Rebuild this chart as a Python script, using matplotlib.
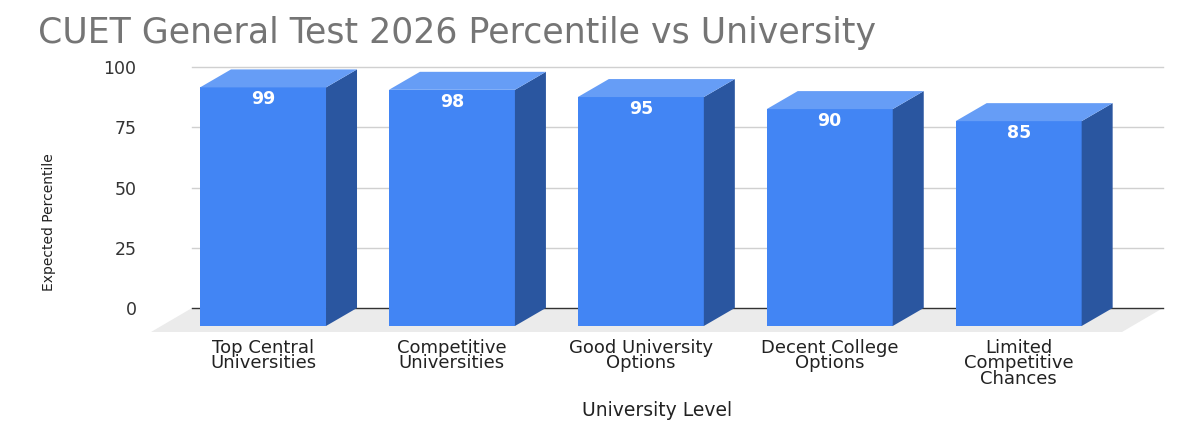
import matplotlib
matplotlib.use("Agg")
import matplotlib.pyplot as plt
from matplotlib.patches import Polygon
from matplotlib import font_manager
import numpy as np

categories = [
    "Top Central\nUniversities",
    "Competitive\nUniversities",
    "Good University\nOptions",
    "Decent College\nOptions",
    "Limited\nCompetitive\nChances",
]
percentiles = [99, 98, 95, 90, 85]
y_ticks = [0, 25, 50, 75, 100]

title = "CUET General Test 2026 Percentile vs University"
x_title = "University Level"
y_title = "Expected Percentile"

FRONT = "#4285F4"
SIDE = "#2A56A0"
TOP = "#669DF6"
FLOOR = "#EBEBEB"

plt.rcParams["font.family"] = ["DejaVu Sans"]

# narrow face for the y title if it is there
names = {f.name for f in font_manager.fontManager.ttflist}
narrow = "Liberation Sans Narrow" if "Liberation Sans Narrow" in names else "DejaVu Sans"
ylab_size = 12 if narrow != "DejaVu Sans" else 10

W, H = 1200, 440
fig = plt.figure(figsize=(W / 100, H / 100), dpi=100)
# axes = back wall of the pseudo-3D box
ax = fig.add_axes([192 / W, (H - 308) / H, (1163 - 192) / W, (308 - 67) / H])
ax.set_xlim(-0.54, 4.6)
ax.set_ylim(0, 100)
for s in ax.spines.values():
    s.set_visible(False)

# depth offsets (pixels) -> data units
def px_to_data(dx_px, dy_px):
    inv = ax.transData.inverted()
    x0, y0 = ax.transData.transform((0, 0))
    x1, y1 = inv.transform((x0 + dx_px, y0 + dy_px))
    return x1, y1

bdx, bdy = px_to_data(31, 18)   # bar depth
fdx, fdy = px_to_data(41, 24)   # floor depth
x0, x1 = ax.get_xlim()

# floor
ax.add_patch(Polygon([(x0, 0), (x1, 0), (x1 - fdx, -fdy), (x0 - fdx, -fdy)],
                     closed=True, facecolor=FLOOR, edgecolor="none",
                     clip_on=False, zorder=0))

# gridlines on back wall
for t in y_ticks:
    ax.plot([x0, x1], [t, t], color="#333333" if t == 0 else "#D0D0D0",
            lw=1.0, zorder=1, clip_on=False)

x = np.arange(len(categories))
w = 0.667
# front faces
ax.bar(x - bdx, percentiles, width=w, bottom=-bdy, color=FRONT,
       edgecolor="none", zorder=3, clip_on=False)
lbl_y = px_to_data(0, -12)[1]
for xi, v in zip(x, percentiles):
    fl, fr = xi - bdx - w / 2, xi - bdx + w / 2
    ax.add_patch(Polygon([(fr, -bdy), (fr + bdx, 0), (fr + bdx, v), (fr, v - bdy)],
                         closed=True, facecolor=SIDE, edgecolor="none",
                         zorder=3, clip_on=False))
    ax.add_patch(Polygon([(fl, v - bdy), (fr, v - bdy), (fr + bdx, v), (fl + bdx, v)],
                         closed=True, facecolor=TOP, edgecolor="none",
                         zorder=3, clip_on=False))
    ax.text(xi - bdx, v - bdy + lbl_y, str(v), color="white", fontsize=12.5,
            fontweight="bold", ha="center", va="center", zorder=4)

ax.set_yticks(y_ticks)
ax.set_yticklabels([str(t) for t in y_ticks], fontsize=12.5, color="#333333")
ax.tick_params(axis="y", length=0, pad=40)
ax.set_xticks(x - bdx)
ax.set_xticklabels(categories, fontsize=13, color="#222222", linespacing=0.85)
ax.tick_params(axis="x", length=0, pad=22)

ax.set_ylabel(y_title, fontsize=ylab_size, color="#222222", family=[narrow, "DejaVu Sans"])
ax.yaxis.set_label_coords((56 - 192) / (1163 - 192), (308 - 222) / (308 - 67))
fig.text(657 / W, 1 - 410 / H, x_title, fontsize=13.5, color="#222222",
         ha="center", va="center")
fig.text(38 / W, 1 - 33 / H, title, fontsize=25, color="#757575",
         ha="left", va="center")

fig.savefig("out.png", dpi=100)
